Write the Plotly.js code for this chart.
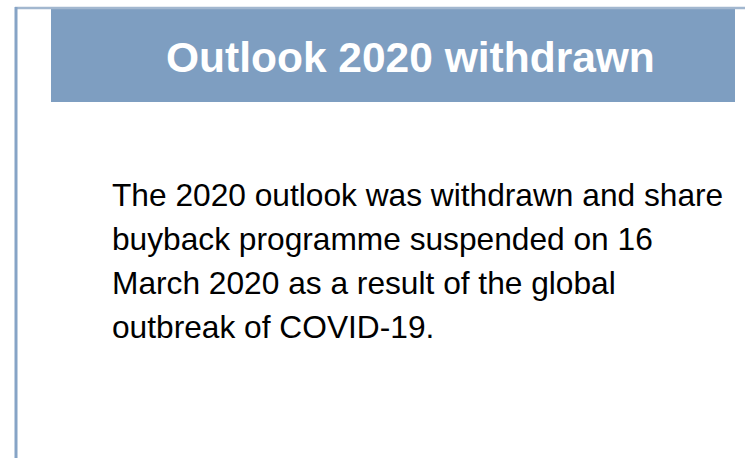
<!DOCTYPE html>
<html>
<head>
<meta charset="utf-8">
<script src="https://cdn.plot.ly/plotly-3.0.1.min.js"></script>
<style>html,body{margin:0;padding:0;background:#fff;}#chart{width:745px;height:458px;}</style>
</head>
<body>
<div id="chart"></div>
<script>
var headerTitle = "Outlook 2020 withdrawn";
var bodyLines = [
  "The 2020 outlook was withdrawn and share",
  "buyback programme suspended on 16",
  "March 2020 as a result of the global",
  "outbreak of COVID-19."
];

var W = 745, H = 458;
function px(x) { return x / W; }
function py(y) { return 1 - y / H; }

var shapes = [
  {type: "rect", xref: "paper", yref: "paper", x0: px(51), x1: px(735), y0: py(102), y1: py(9),
   fillcolor: "#7e9ec1", line: {width: 0}, layer: "below"},
  {type: "line", xref: "paper", yref: "paper", x0: px(15), x1: px(745), y0: py(8), y1: py(8),
   line: {color: "#a2b7cf", width: 2.5}},
  {type: "line", xref: "paper", yref: "paper", x0: px(16), x1: px(16), y0: py(7), y1: py(458),
   line: {color: "#86a4c6", width: 3}}
];

var annotations = [{
  xref: "paper", yref: "paper", x: px(411), y: py(58), xanchor: "center", yanchor: "middle",
  text: "<b>" + headerTitle + "</b>", showarrow: false,
  font: {family: "Arial, Liberation Sans, sans-serif", size: 42.5, color: "#ffffff"}
}];
var lineCenters = [195, 239, 283, 327];
bodyLines.forEach(function (t, i) {
  annotations.push({
    xref: "paper", yref: "paper", x: px(110), y: py(lineCenters[i]), xanchor: "left", yanchor: "middle",
    text: t, showarrow: false,
    font: {family: "Arial, Liberation Sans, sans-serif", size: 31.7, color: "#000000"}
  });
});

var layout = {
  width: W, height: H,
  margin: {l: 0, r: 0, t: 0, b: 0},
  paper_bgcolor: "#ffffff", plot_bgcolor: "#ffffff",
  xaxis: {visible: false, range: [0, 1]},
  yaxis: {visible: false, range: [0, 1]},
  showlegend: false,
  shapes: shapes,
  annotations: annotations
};

Plotly.newPlot("chart", [], layout, {staticPlot: true, displayModeBar: false});
</script>
</body>
</html>
